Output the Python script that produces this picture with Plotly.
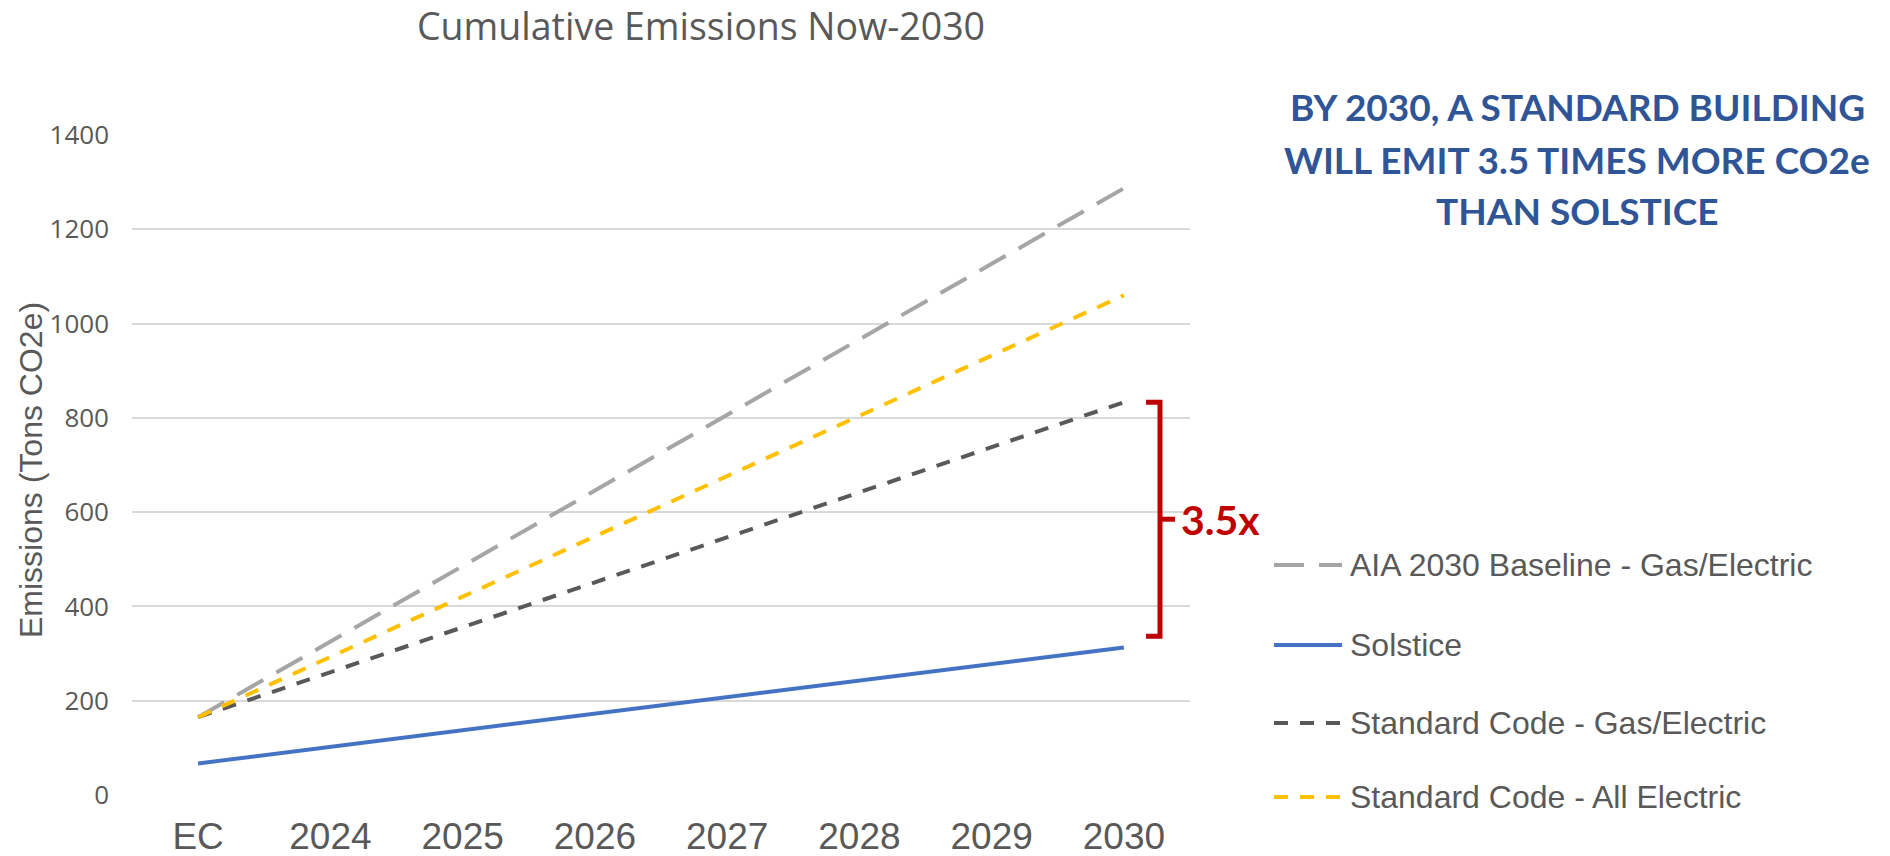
import plotly.graph_objects as go

# Cumulative emissions (tons CO2e) by year, starting from embodied carbon (EC)
categories = ["EC", "2024", "2025", "2026", "2027", "2028", "2029", "2030"]

aia_baseline = [165, 325, 486, 646, 806, 967, 1127, 1287]
solstice = [67, 102, 137, 172, 208, 243, 278, 313]
std_gas_electric = [165, 260, 356, 451, 547, 642, 738, 833]
std_all_electric = [165, 293, 421, 549, 677, 805, 932, 1060]

series_names = [
    "AIA 2030 Baseline - Gas/Electric",
    "Solstice",
    "Standard Code - Gas/Electric",
    "Standard Code - All Electric",
]

y_ticks = [0, 200, 400, 600, 800, 1000, 1200, 1400]

headline = ["BY 2030, A STANDARD BUILDING", "WILL EMIT 3.5 TIMES MORE CO2e", "THAN SOLSTICE"]
ratio_label = "3.5x"
bracket_top, bracket_bottom, bracket_mid = 833, 337, 585

W, H = 1890, 856
L, R, T, B = 132, 700, 135, 61
plot_w = W - L - R
plot_h = H - T - B


def px_x(px):
    return (px - L) / plot_w


def px_y(py):
    return (H - B - py) / plot_h


GRAY_TEXT = "#595959"
ARIAL = "Liberation Sans, Arial"

styles = [
    (aia_baseline, "#A5A5A5", "30px,15px"),
    (solstice, "#4472C4", "solid"),
    (std_gas_electric, "#595959", "14px,12px"),
    (std_all_electric, "#FFC000", "14px,12px"),
]

fig = go.Figure()
for i, (vals, color, dash) in enumerate(styles):
    fig.add_trace(go.Scatter(
        x=categories, y=vals, mode="lines", name=series_names[i],
        line=dict(color=color, width=4, dash=dash),
    ))

fig.update_layout(
    width=W, height=H,
    margin=dict(l=L, r=R, t=T, b=B, autoexpand=False),
    paper_bgcolor="white", plot_bgcolor="white",
    title=dict(
        text="Cumulative Emissions Now-2030",
        font=dict(family="Open Sans", size=37.5, color=GRAY_TEXT),
        x=701 / W, xanchor="center", xref="container",
        y=1 - 27 / H, yanchor="middle", yref="container",
    ),
    showlegend=False,
    xaxis=dict(
        type="category", range=[-0.5, len(categories) - 0.5],
        showgrid=False, showline=False, zeroline=False, ticks="",
        tickfont=dict(family=ARIAL, size=37, color=GRAY_TEXT),
        ticklabelstandoff=16, automargin=False,
    ),
    yaxis=dict(
        range=[0, 1400], tickvals=y_ticks,
        showgrid=True, gridcolor="#D9D9D9", gridwidth=2,
        showline=False, zeroline=False, ticks="",
        tickfont=dict(family="Open Sans", size=26, color=GRAY_TEXT),
        ticklabelstandoff=22, automargin=False,
    ),
)

# legend: sample line plus series name for each trace
legend_rows = [565, 645, 723, 797]
for (vals, color, dash), name, cy in zip(styles, series_names, legend_rows):
    fig.add_shape(
        type="line", xref="paper", yref="paper",
        x0=px_x(1274), x1=px_x(1342), y0=px_y(cy), y1=px_y(cy),
        line=dict(color=color, width=4, dash=dash),
    )
    fig.add_annotation(
        text=name, xref="paper", yref="paper",
        x=px_x(1348), y=px_y(cy), xanchor="left", yanchor="middle",
        showarrow=False, font=dict(family=ARIAL, size=32, color=GRAY_TEXT),
    )

# y-axis title
fig.add_annotation(
    text="Emissions (Tons CO2e)", textangle=-90,
    xref="paper", yref="paper", x=px_x(31), y=px_y(470),
    xanchor="center", yanchor="middle", showarrow=False,
    font=dict(family=ARIAL, size=32, color=GRAY_TEXT),
)

# headline callout
for line, cy in zip(headline, [107, 159, 211]):
    fig.add_annotation(
        text=f"<b>{line}</b>",
        xref="paper", yref="paper", x=px_x(1577), y=px_y(cy),
        xanchor="center", yanchor="middle", showarrow=False,
        font=dict(family="Lato", size=37, color="#2F5597"),
    )

# bracket comparing standard code to Solstice in 2030
RED = "#C00000"
xh, xv, xt = px_x(1146), px_x(1160), px_x(1175)
fig.add_shape(
    type="path", xref="paper", yref="y",
    path=f"M {xh},{bracket_top} L {xv},{bracket_top} L {xv},{bracket_bottom} L {xh},{bracket_bottom}",
    line=dict(color=RED, width=5),
)
fig.add_shape(
    type="line", xref="paper", yref="y",
    x0=xv, x1=xt, y0=bracket_mid, y1=bracket_mid,
    line=dict(color=RED, width=5),
)
fig.add_annotation(
    text=f"<b>{ratio_label}</b>",
    xref="paper", yref="y", x=px_x(1179), y=bracket_mid,
    xanchor="left", yanchor="middle", showarrow=False,
    font=dict(family="Lato", size=41, color=RED),
)

fig.write_html("out.html")
